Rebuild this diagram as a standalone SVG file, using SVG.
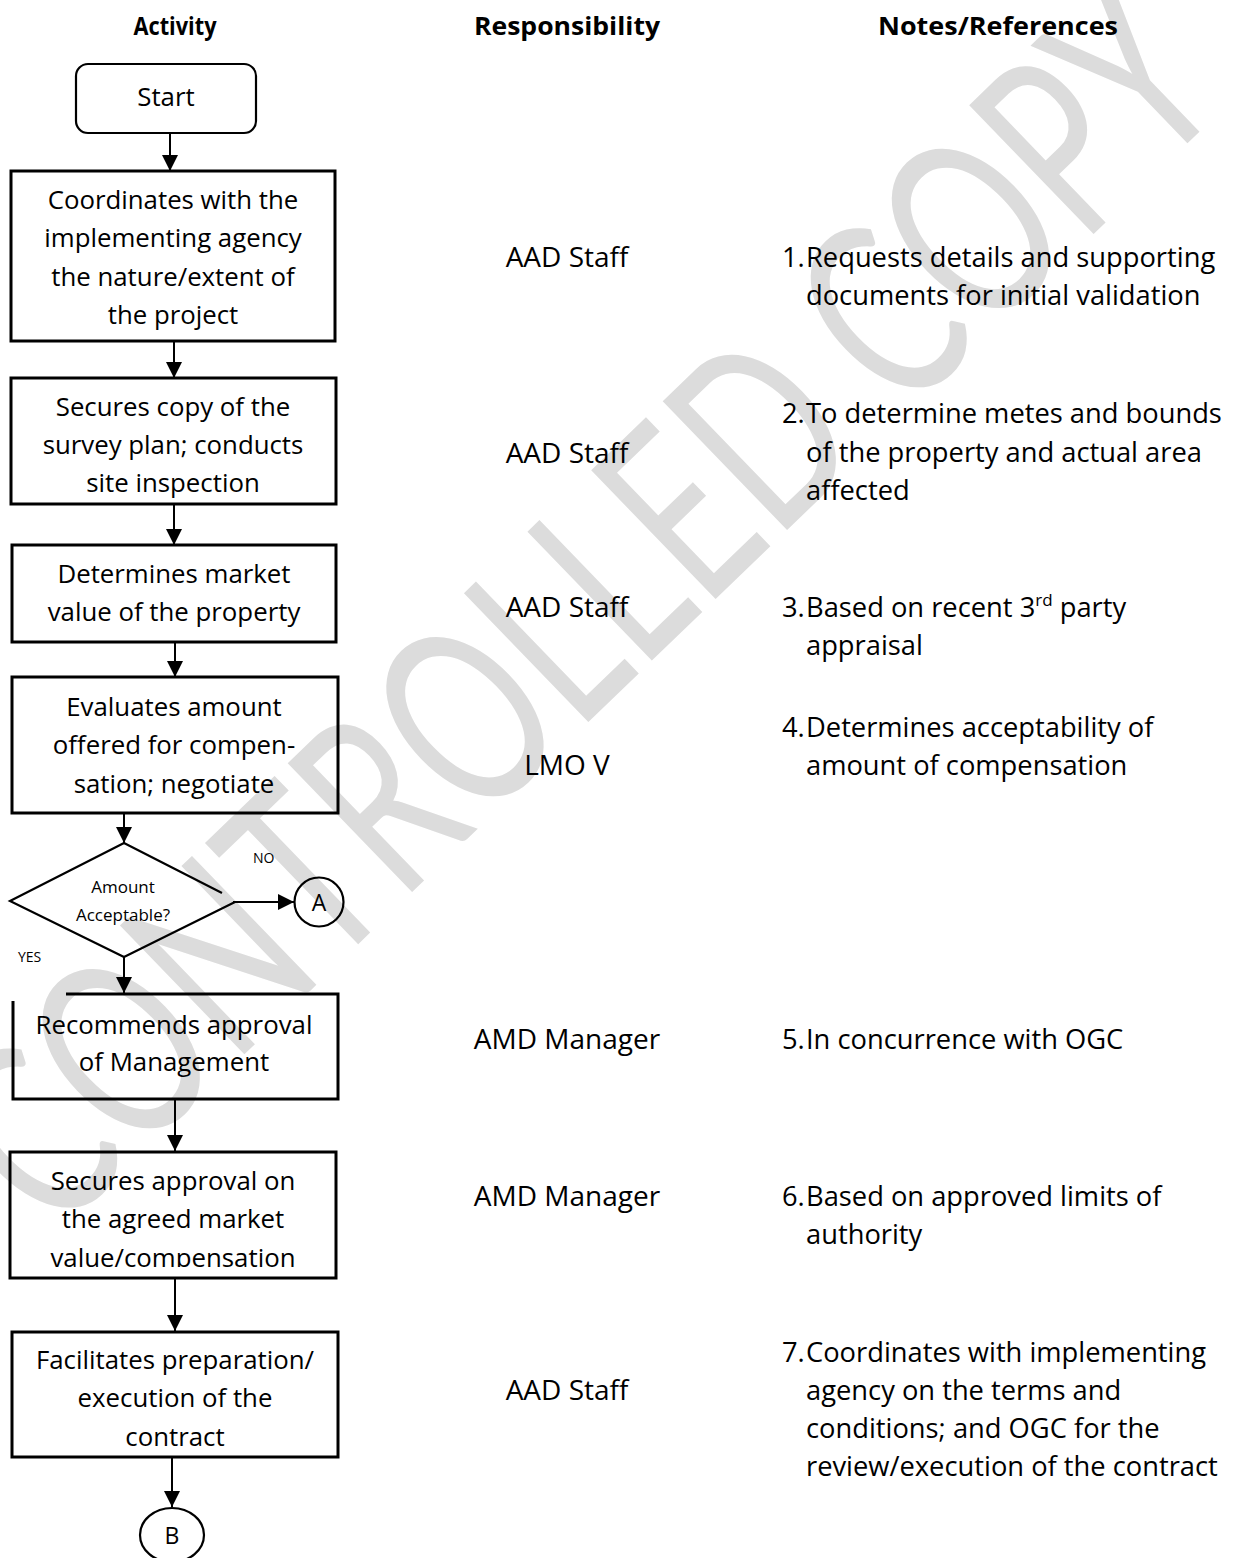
<svg xmlns="http://www.w3.org/2000/svg" width="1250" height="1558" viewBox="0 0 1250 1558">
  <style>
    text { font-family: "Open Sans", Lato, sans-serif; fill: #000; }
    .hdr { font-size: 25px; font-weight: bold; text-anchor: middle; }
    .act { font-size: 25.8px; text-anchor: middle; }
    .resp { font-size: 28px; text-anchor: middle; }
    .note { font-size: 27.3px; }
    .small { font-size: 17px; text-anchor: middle; }
    .tag { font-size: 14px; }
    .box { fill: none; stroke: #000; stroke-width: 3; }
    .shape { fill: none; stroke: #000; stroke-width: 2.2; }
    .wire { fill: none; stroke: #000; stroke-width: 2; marker-end: url(#head); }
    .wm { font-family: Lato, "Open Sans", sans-serif; font-weight: normal; fill: #dcdcdc; }
  </style>
  <defs>
    <marker id="head" markerUnits="userSpaceOnUse" markerWidth="16" markerHeight="16" refX="16" refY="8" orient="auto">
      <path d="M0,0 L16,8 L0,16 Z" fill="#000"/>
    </marker>
    <clipPath id="clip6"><rect x="0" y="1140" width="360" height="127"/></clipPath>
    <clipPath id="clip7"><rect x="0" y="1320" width="360" height="126"/></clipPath>
  </defs>

  <rect width="1250" height="1558" fill="#fff"/>

  <!-- diagonal watermark -->
  <text class="wm" transform="translate(575,600) rotate(-44)" text-anchor="middle" dominant-baseline="central" font-size="250" textLength="1640" lengthAdjust="spacingAndGlyphs">CONTROLLED COPY</text>

  <!-- column headings -->
  <g id="headings">
    <text class="hdr" x="175" y="35" textLength="83" lengthAdjust="spacingAndGlyphs">Activity</text>
    <text class="hdr" x="567" y="35" textLength="186" lengthAdjust="spacingAndGlyphs">Responsibility</text>
    <text class="hdr" x="998" y="35" textLength="240" lengthAdjust="spacingAndGlyphs">Notes/References</text>
  </g>

  <!-- connectors -->
  <g id="connectors">
    <line class="wire" x1="170" y1="133" x2="170" y2="171"/>
    <line class="wire" x1="174" y1="341" x2="174" y2="378"/>
    <line class="wire" x1="174" y1="504" x2="174" y2="545"/>
    <line class="wire" x1="175" y1="642" x2="175" y2="677"/>
    <line class="wire" x1="124" y1="813" x2="124" y2="843"/>
    <line class="wire" x1="233" y1="902" x2="294" y2="902"/>
    <line class="wire" x1="124" y1="957" x2="124" y2="993"/>
    <line class="wire" x1="175" y1="1099" x2="175" y2="1151"/>
    <line class="wire" x1="175" y1="1278" x2="175" y2="1331"/>
    <line class="wire" x1="172" y1="1457" x2="172" y2="1507"/>
  </g>

  <g id="start">
    <rect class="shape" x="76" y="64" width="180" height="69" rx="12"/>
    <text class="act" x="166" y="106">Start</text>
  </g>

  <g id="coordinate">
    <rect class="box" x="11" y="171" width="324" height="170"/>
    <text class="act" x="173"><tspan x="173" y="209">Coordinates with the</tspan><tspan x="173" y="247">implementing agency</tspan><tspan x="173" y="286">the nature/extent of</tspan><tspan x="173" y="324">the project</tspan></text>
  </g>

  <g id="survey">
    <rect class="box" x="11" y="378" width="325" height="126"/>
    <text class="act" x="173"><tspan x="173" y="416">Secures copy of the</tspan><tspan x="173" y="454">survey plan; conducts</tspan><tspan x="173" y="492">site inspection</tspan></text>
  </g>

  <g id="market-value">
    <rect class="box" x="12" y="545" width="324" height="97"/>
    <text class="act" x="174"><tspan x="174" y="583">Determines market</tspan><tspan x="174" y="621">value of the property</tspan></text>
  </g>

  <g id="evaluate">
    <rect class="box" x="12" y="677" width="326" height="136"/>
    <text class="act" x="174"><tspan x="174" y="716">Evaluates amount</tspan><tspan x="174" y="754">offered for compen-</tspan><tspan x="174" y="793">sation; negotiate</tspan></text>
  </g>

  <g id="decision">
    <path class="shape" d="M222,893 L124,843 L10,901 L124,957 L235,902"/>
    <text class="small"><tspan x="123" y="893">Amount</tspan><tspan x="123" y="921">Acceptable?</tspan></text>
    <text class="tag" x="253" y="863">NO</text>
    <text class="tag" x="18" y="962">YES</text>
  </g>

  <g id="connector-a">
    <circle class="shape" cx="319" cy="902" r="24.5"/>
    <text class="act" x="319" y="911" style="font-size:23px">A</text>
  </g>

  <g id="recommend">
    <path class="box" d="M66,994 H338 V1099 H13 V1001"/>
    <text class="act" x="174"><tspan x="174" y="1034">Recommends approval</tspan><tspan x="174" y="1071">of Management</tspan></text>
  </g>

  <g id="secure-approval">
    <rect class="box" x="10" y="1152" width="326" height="126"/>
    <text class="act" x="173" clip-path="url(#clip6)"><tspan x="173" y="1190">Secures approval on</tspan><tspan x="173" y="1228">the agreed market</tspan><tspan x="173" y="1267">value/compensation</tspan></text>
  </g>

  <g id="contract">
    <rect class="box" x="12" y="1332" width="326" height="125"/>
    <text class="act" x="175" clip-path="url(#clip7)"><tspan x="175" y="1369">Facilitates preparation/</tspan><tspan x="175" y="1407">execution of the</tspan><tspan x="175" y="1446">contract</tspan></text>
  </g>

  <g id="connector-b">
    <ellipse class="shape" cx="172" cy="1535" rx="32" ry="27"/>
    <text class="act" x="172" y="1544" style="font-size:23px">B</text>
  </g>

  <!-- responsibility column -->
  <g id="responsibility">
    <text class="resp" x="567" y="267">AAD Staff</text>
    <text class="resp" x="567" y="463">AAD Staff</text>
    <text class="resp" x="567" y="617">AAD Staff</text>
    <text class="resp" x="567" y="775">LMO V</text>
    <text class="resp" x="567" y="1049">AMD Manager</text>
    <text class="resp" x="567" y="1206">AMD Manager</text>
    <text class="resp" x="567" y="1400">AAD Staff</text>
  </g>

  <!-- notes column -->
  <g id="notes">
    <text class="note"><tspan x="782" y="267">1.</tspan><tspan x="806" y="267">Requests details and supporting</tspan><tspan x="806" y="305">documents for initial validation</tspan></text>
    <text class="note"><tspan x="782" y="423">2.</tspan><tspan x="806" y="423">To determine metes and bounds</tspan><tspan x="806" y="462">of the property and actual area</tspan><tspan x="806" y="500">affected</tspan></text>
    <text class="note"><tspan x="782" y="617">3.</tspan><tspan x="806" y="617">Based on recent 3</tspan><tspan baseline-shift="super" font-size="17">rd</tspan><tspan> party</tspan><tspan x="806" y="655">appraisal</tspan></text>
    <text class="note"><tspan x="782" y="737">4.</tspan><tspan x="806" y="737">Determines acceptability of</tspan><tspan x="806" y="775">amount of compensation</tspan></text>
    <text class="note"><tspan x="782" y="1049">5.</tspan><tspan x="806" y="1049">In concurrence with OGC</tspan></text>
    <text class="note"><tspan x="782" y="1206">6.</tspan><tspan x="806" y="1206">Based on approved limits of</tspan><tspan x="806" y="1244">authority</tspan></text>
    <text class="note"><tspan x="782" y="1362">7.</tspan><tspan x="806" y="1362">Coordinates with implementing</tspan><tspan x="806" y="1400">agency on the terms and</tspan><tspan x="806" y="1438">conditions; and OGC for the</tspan><tspan x="806" y="1476">review/execution of the contract</tspan></text>
  </g>
</svg>
